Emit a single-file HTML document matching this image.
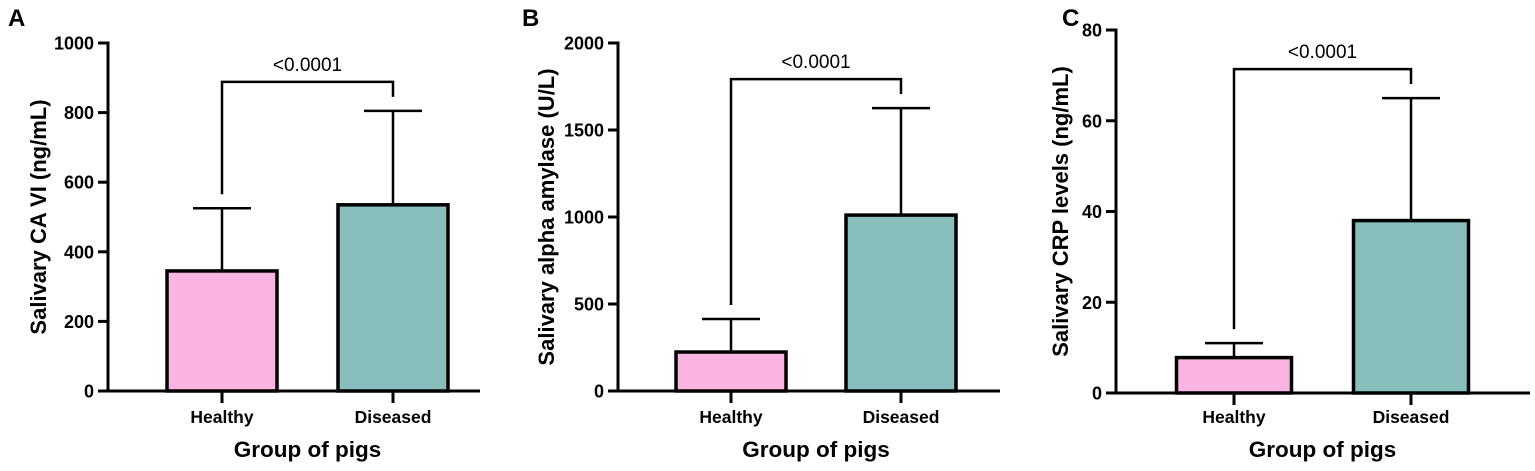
<!DOCTYPE html>
<html><head><meta charset="utf-8"><style>
html,body{margin:0;padding:0;background:#fff;}
svg{display:block;font-family:"Liberation Sans",Arial,sans-serif;}
</style></head><body>
<svg id="fig" width="1535" height="471" viewBox="0 0 1535 471" xmlns="http://www.w3.org/2000/svg"></svg>
<script>
const categories = ["Healthy", "Diseased"];
const meansA = [345, 535];
const errA = [525, 805];
const ticksA = [0, 200, 400, 600, 800, 1000];
const meansB = [224, 1011];
const errB = [414, 1626];
const ticksB = [0, 500, 1000, 1500, 2000];
const meansC = [7.8, 38];
const errC = [11, 65];
const ticksC = [0, 20, 40, 60, 80];
const pLabels = ["<0.0001", "<0.0001", "<0.0001"];
const yTitles = ["Salivary CA VI (ng/mL)", "Salivary alpha amylase (U/L)", "Salivary CRP levels (ng/mL)"];
const panelLetters = ["A", "B", "C"];

const NS = "http://www.w3.org/2000/svg";
const svg = document.getElementById("fig");
const colors = ["#f9b4e2", "#88bfbc"];

function mk(tag, attrs, parent) {
  const e = document.createElementNS(NS, tag);
  for (const k in attrs) e.setAttribute(k, attrs[k]);
  (parent || svg).appendChild(e);
  return e;
}

const layouts = [
  {ax: 108, top: 43, zero: 391, xend: 480, cx: [222, 393], bw: 110, ylx: 46, letterX: 8, max: 1000},
  {ax: 618, top: 43, zero: 391, xend: 1000, cx: [731, 901], bw: 110, ylx: 554, letterX: 522, max: 2000},
  {ax: 1116, top: 30, zero: 393, xend: 1530, cx: [1234, 1411], bw: 115, ylx: 1068, letterX: 1062, max: 80}
];
const allMeans = [meansA, meansB, meansC];
const allErr = [errA, errB, errC];
const allTicks = [ticksA, ticksB, ticksC];

layouts.forEach((L, p) => {
  const g = mk("g", {});
  
  
  const y = v => L.zero - (v / L.max) * (L.zero - L.top);

  const letter = mk("text", {x: L.letterX, y: 26, "font-size": 24, "font-weight": "bold"}, g);
  letter.textContent = panelLetters[p];
  
  

  allMeans[p].forEach((m, i) => {
    const cx = L.cx[i], e = allErr[p][i];
    const eb = mk("line", {x1: cx, x2: cx, y1: y(e), y2: y(m), stroke: "#000", "stroke-width": 2.5}, g);
    
    
    const cap = mk("line", {x1: cx - 29, x2: cx + 29, y1: y(e), y2: y(e), stroke: "#000", "stroke-width": 2.5}, g);
    
    
    const r = mk("rect", {x: cx - L.bw / 2, y: y(m), width: L.bw, height: L.zero - y(m), fill: colors[i], stroke: "#000", "stroke-width": 3.5}, g);
    
    
    const t = mk("line", {x1: cx, x2: cx, y1: L.zero, y2: L.zero + 12, stroke: "#000", "stroke-width": 3}, g);
    
    
    const lbl = mk("text", {x: cx, y: 423, "font-size": 17.5, "font-weight": "bold", "text-anchor": "middle"}, g);
    lbl.textContent = categories[i];
    
    
  });

  const ya = mk("line", {x1: L.ax, x2: L.ax, y1: L.top - 1.5, y2: L.zero + 1.5, stroke: "#000", "stroke-width": 3}, g);
  
  
  const xa = mk("line", {x1: L.ax - 10, x2: L.xend, y1: L.zero, y2: L.zero, stroke: "#000", "stroke-width": 3}, g);
  
  
  allTicks[p].forEach(v => {
    const tk = mk("line", {x1: L.ax - 10, x2: L.ax, y1: y(v), y2: y(v), stroke: "#000", "stroke-width": 3}, g);
    
    
    const tl = mk("text", {x: L.ax - 14, y: y(v) + 6.5, "font-size": 18, "font-weight": "bold", "text-anchor": "end"}, g);
    tl.textContent = v;
    
    
  });

  const e0 = y(allErr[p][0]), e1 = y(allErr[p][1]);
  const by = Math.min(e0, e1) - 29;
  const br = mk("path", {d: `M${L.cx[0]},${e0 - 14} V${by} H${L.cx[1]} V${e1 - 14}`, fill: "none", stroke: "#000", "stroke-width": 2.5}, g);
  
  
  const pt = mk("text", {x: (L.cx[0] + L.cx[1]) / 2, y: by - 11, "font-size": 19, "text-anchor": "middle"}, g);
  pt.textContent = pLabels[p];
  
  

  const yt = mk("text", {x: 0, y: 0, "font-size": 22, "font-weight": "bold", "text-anchor": "middle", transform: `translate(${L.ylx},${(L.top + L.zero) / 2}) rotate(-90)`}, g);
  yt.textContent = yTitles[p];
  
  
  const xt = mk("text", {x: (L.cx[0] + L.cx[1]) / 2, y: 457, "font-size": 22.5, "font-weight": "bold", "text-anchor": "middle"}, g);
  xt.textContent = "Group of pigs";
  
  
});
</script>
</body></html>
